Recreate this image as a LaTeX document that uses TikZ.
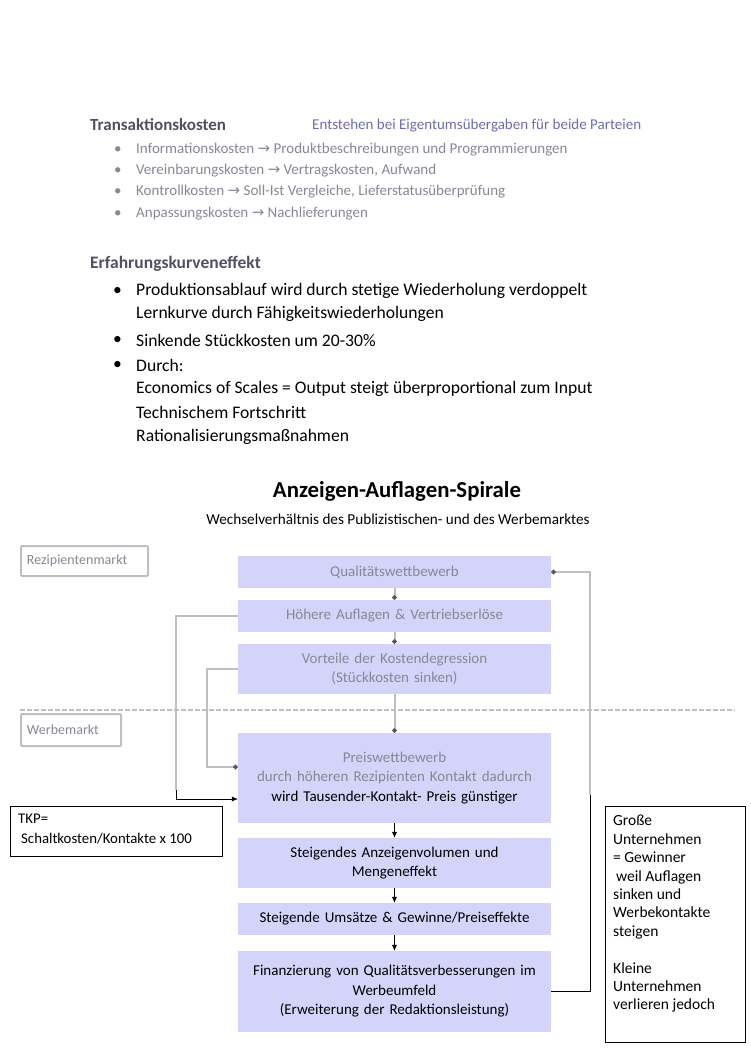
\documentclass[tikz,border=0pt]{standalone}
\usepackage{fontspec}
\setmainfont{Carlito}
\newfontfamily\symfont{DejaVu Sans}
\usetikzlibrary{arrows.meta,positioning}
\definecolor{StageBlue}{RGB}{212,212,250}
\definecolor{BlurGray}{RGB}{135,135,150}
\definecolor{BlurInk}{RGB}{80,80,100}
\definecolor{LinkGray}{RGB}{190,190,195}

\begin{document}
\begin{tikzpicture}[x=1pt, y=-1pt,
	stage/.style={fill=StageBlue, minimum width=313pt, text width=305pt, align=center, inner sep=0pt, font=\fontsize{15}{19.5}\selectfont},
	blurtext/.style={text=BlurGray},
	line/.style={anchor=west, inner sep=0pt},
	market/.style={draw=LinkGray, line width=2pt, rounded corners=1pt, inner sep=0pt, text=BlurGray, font=\fontsize{14}{16}\selectfont, anchor=north west},
	note/.style={draw, thin, anchor=north west, inner sep=0pt},
	flow/.style={-{Latex[length=6pt,width=5pt]}, thin},
	fadeflow/.style={-{Circle[length=4.5pt, color=black!65]}, LinkGray, line width=2pt},
	fadeline/.style={LinkGray, line width=2pt}
]
	\useasboundingbox (0,0) rectangle (750,1059);
	
	% Transaktionskosten
	\node[line, text=BlurInk, font=\fontsize{17}{19}\bfseries] (trans) at (90,125) {Transaktionskosten};
	\node[line, text=BlurGray!80!blue, font=\fontsize{15}{17}\selectfont] (entst) at (312,126) {Entstehen bei Eigentumsübergaben für beide Parteien};
	\foreach \y/\txt [count=\i] in {150/Informationskosten {\symfont→} Produktbeschreibungen und Programmierungen,
		171/Vereinbarungskosten {\symfont→} Vertragskosten{,} Aufwand,
		192/Kontrollkosten {\symfont→} Soll-Ist Vergleiche{,} Lieferstatusüberprüfung,
		214/Anpassungskosten {\symfont→} Nachlieferungen}
	{
		\node[line, blurtext, font=\fontsize{15}{17}\selectfont] (tk\i) at (136,\y) {\txt};
		\node[line, blurtext, font=\fontsize{15}{17}\selectfont] at (114,\y) {•};
	}
	
	% Erfahrungskurveneffekt
	\node[line, text=BlurInk, font=\fontsize{17.5}{19}\bfseries] (erf) at (90,264) {Erfahrungskurveneffekt};
	\foreach \y/\txt/\dot [count=\i] in {291/Produktionsablauf wird durch stetige Wiederholung verdoppelt/1,
		314/Lernkurve durch Fähigkeitswiederholungen/0,
		340/Sinkende Stückkosten um 20-30\%/1,
		365/Durch:/1,
		389/Economics of Scales = Output steigt überproportional zum Input/0,
		412/Technischem Fortschritt/0,
		437/Rationalisierungsmaßnahmen/0}
	{
		\node[line, font=\fontsize{17.6}{20}\selectfont] (ek\i) at (136,\y) {\txt};
		\ifnum\dot=1 \node[line, font=\fontsize{17.6}{20}\selectfont] at (113,\y) {•}; \fi
	}
	
	% Titel
	\node[font=\fontsize{22.8}{26}\bfseries] (title) at (397,491) {Anzeigen-Auflagen-Spirale};
	\node[font=\fontsize{15.2}{18}\selectfont] (subtitle) at (398,519) {Wechselverhältnis des Publizistischen- und des Werbemarktes};
	
	% Maerkte
	\node[market, minimum width=127pt, minimum height=30pt, text width=115pt, align=left] (rezmarkt) at (20,545) {Rezipientenmarkt};
	\node[market, minimum width=100pt, minimum height=32pt, text width=88pt, align=left] (werbmarkt) at (20,713) {Werbemarkt};
	\draw[LinkGray, line width=2pt, dash pattern=on 5pt off 2pt] (20,710) -- (735,710);
	
	% Spirale
	\node[stage, minimum height=32pt, blurtext] (qual) at (394.5,572) {Qualitätswettbewerb};
	\node[stage, minimum height=32pt, blurtext] (hoeher) at (394.5,616) {Höhere Auflagen \& Vertriebserlöse};
	\node[stage, minimum height=50pt, blurtext] (vorteil) at (394.5,669) {Vorteile der Kostendegression\\(Stückkosten sinken)};
	\node[stage, minimum height=90pt] (preis) at (394.5,778) {\textcolor{BlurGray}{Preiswettbewerb}\\\textcolor{BlurGray}{durch höheren Rezipienten Kontakt dadurch}\\wird Tausender-Kontakt- Preis günstiger};
	\node[stage, minimum height=50pt] (steig) at (394.5,863) {Steigendes Anzeigenvolumen und\\Mengeneffekt};
	\node[stage, minimum height=32pt] (umsatz) at (394.5,919) {Steigende Umsätze \& Gewinne/Preiseffekte};
	\node[stage, minimum height=81pt] (finanz) at (394.5,991.5) {Finanzierung von Qualitätsverbesserungen im\\Werbeumfeld\\(Erweiterung der Redaktionsleistung)};
	
	\draw[fadeflow] (qual) -- (hoeher);
	\draw[fadeflow] (hoeher) -- (vorteil);
	\draw[fadeflow] (vorteil) -- (preis);
	\draw[flow] (preis) -- (steig);
	\draw[flow] (steig) -- (umsatz);
	\draw[flow] (umsatz) -- (finanz);
	
	% Rueckkopplungen
	\coordinate (links1) at (176,790);
	\coordinate (rechts1) at (590,795);
	\draw[fadeline] (hoeher.west) -| (links1);
	\draw[flow] (links1) |- ([yshift=-21pt]preis.west);
	\draw[fadeflow] (vorteil.west) -- ++(-31,0) |- ([yshift=11pt]preis.west);
	\draw[thick] (finanz.east) -| (rechts1);
	\draw[fadeflow] (rechts1) |- (qual.east);
	
	% Notizen
	\node[note, minimum width=212pt, minimum height=50pt] (tkp) at (10,806) {};
	\node[anchor=north west, align=left, inner sep=0pt, font=\fontsize{14.8}{20}\selectfont] (tkptext) at ([xshift=8pt,yshift=-8pt]tkp.north west) {TKP=\\\hspace{3pt}Schaltkosten/Kontakte x 100};
	\node[note, minimum width=140pt, minimum height=236pt] (gross) at (605,806) {};
	\node[anchor=north west, align=left, inner sep=0pt, font=\fontsize{15.5}{18.4}\selectfont] (grosstext) at ([xshift=8pt,yshift=-9pt]gross.north west) {Große\\Unternehmen\\= Gewinner\\\hspace{3pt}weil Auflagen\\sinken und\\Werbekontakte\\steigen\\\mbox{}\\Kleine\\Unternehmen\\verlieren jedoch};
\end{tikzpicture}
\end{document}
